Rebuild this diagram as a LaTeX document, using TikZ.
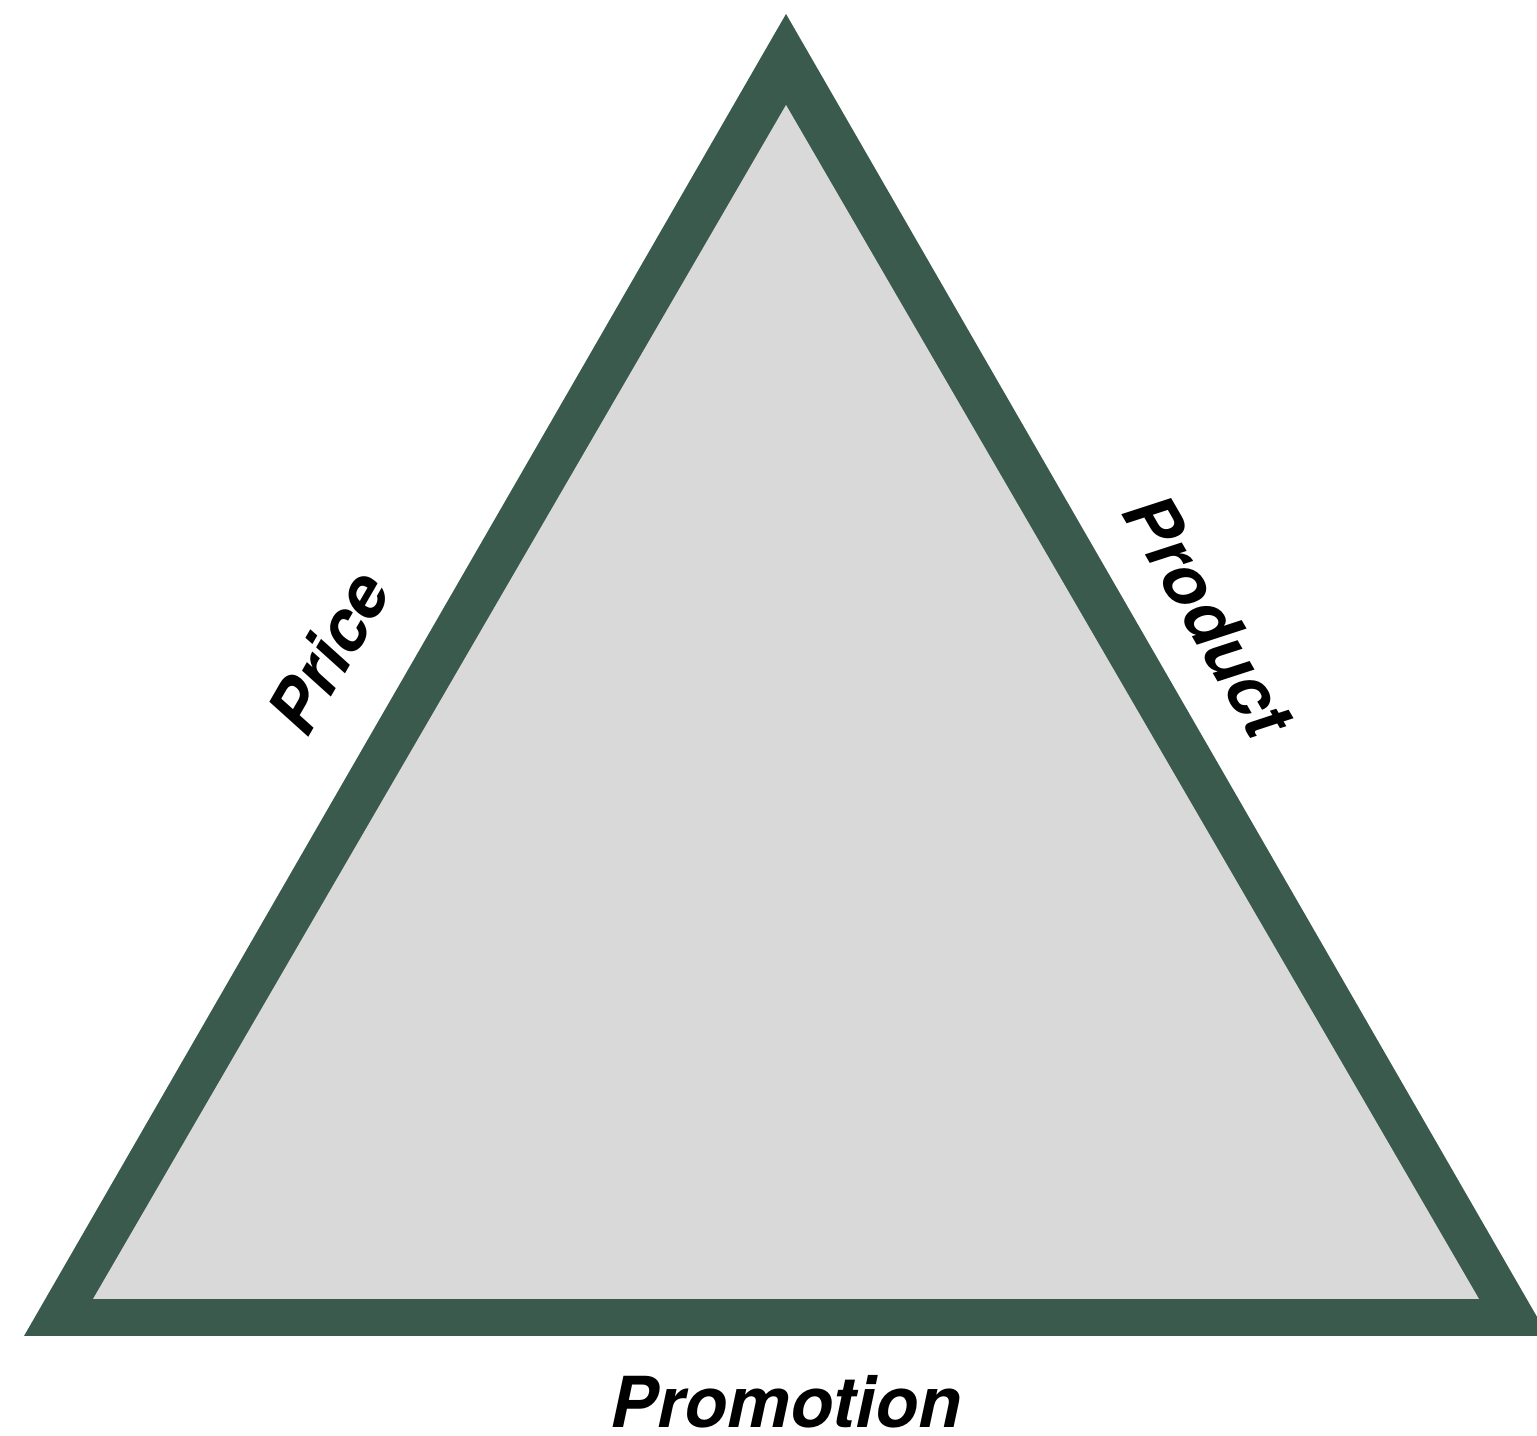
\documentclass[tikz,border=0pt]{standalone}
\usepackage{fontspec}
\setmainfont{TeX Gyre Heros}
\usepackage{xcolor}
\definecolor{mixgreen}{HTML}{3A5A4D}
\definecolor{mixgrey}{HTML}{D9D9D9}
\tikzset{
    sidelabel/.style={font=\fontsize{20}{24}\selectfont\bfseries\itshape, text=black, inner sep=0pt}
}

\begin{document}
\begin{tikzpicture}
        \useasboundingbox (0,0) rectangle (15.37,14.36);
        \clip (0,0) rectangle (15.37,14.36);

        % outer and inner corners
        \coordinate (A) at (0.24, 1.00);
        \coordinate (B) at (15.48, 1.00);
        \coordinate (C) at (7.86, 14.22);
        \coordinate (a) at (0.93, 1.37);
        \coordinate (b) at (14.79, 1.37);
        \coordinate (c) at (7.86, 13.31);

        \fill [mixgreen] (A) -- (B) -- (C) -- cycle;
        \fill [mixgrey] (a) -- (b) -- (c) -- cycle;

        \node [sidelabel, rotate=60] (price) at (3.28, 7.84) {Price};
        \node [sidelabel, rotate=-60] (product) at (12.09, 8.21) {Product};
        \node [sidelabel] (promotion) at (7.86, 0.34) {Promotion};
    \end{tikzpicture}
\end{document}
